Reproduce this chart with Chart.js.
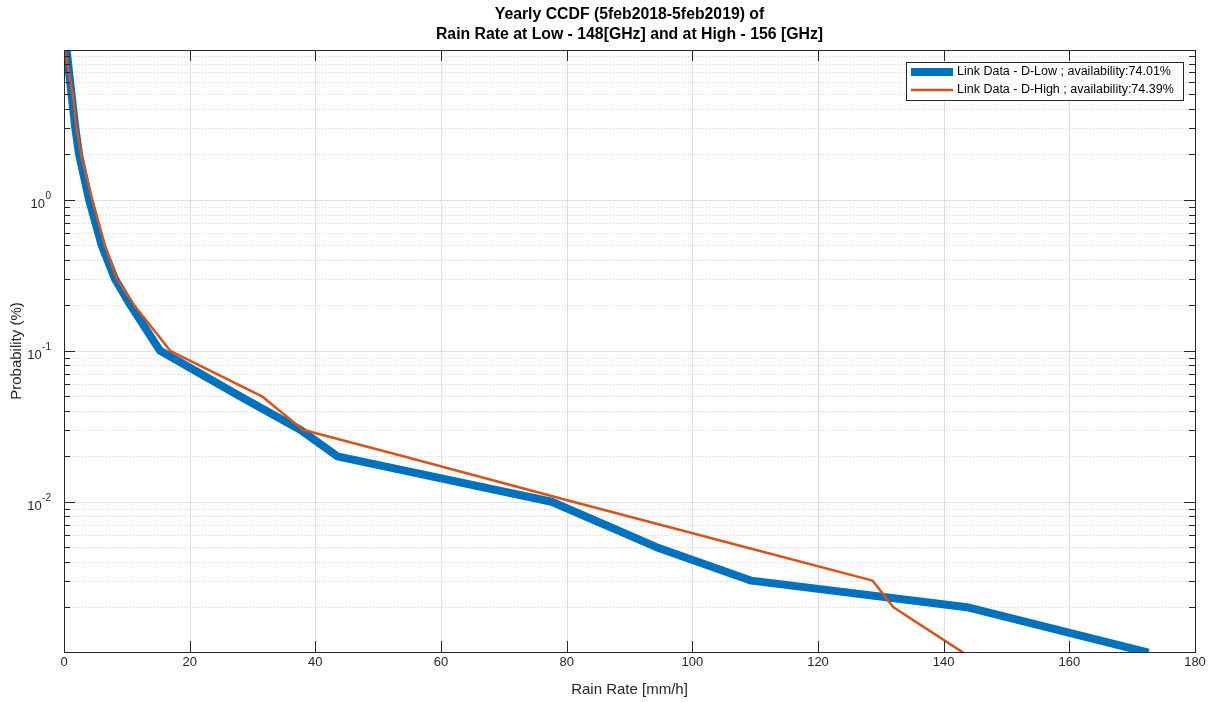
<!DOCTYPE html>
<html>
<head>
<meta charset="utf-8">
<title>Yearly CCDF of Rain Rate</title>
<script src="https://cdn.jsdelivr.net/npm/chart.js@4.4.1/dist/chart.umd.min.js"></script>
<style>
  html, body { margin: 0; padding: 0; background: #ffffff; }
  #wrap { width: 1212px; height: 702px; position: relative; }
</style>
</head>
<body>
<div id="wrap"><canvas id="ccdf" width="1212" height="702"></canvas></div>
<script>
// Exceedance probability levels (%) at which the rain rate is evaluated
const probLevels = [10, 5, 3, 2, 1, 0.5, 0.3, 0.2, 0.1, 0.05, 0.03, 0.02, 0.01, 0.005, 0.003, 0.002, 0.001];
// Rain rate [mm/h] exceeded at each probability level
const rateLow  = [0.4, 1.2, 1.8, 2.4, 4.0, 6.0, 8.1, 10.6, 15.3, 28.0, 37.6, 43.5, 77.6, 94.3, 109.4, 143.7, 172.6];
const rateHigh = [0.1, 1.4, 2.0, 2.7, 4.5, 6.5, 8.4, 11.2, 16.9, 31.5, 38.0, 54.0, 81.0, 108.5, 128.7, 132.0, 143.1];

const seriesNames = ['Link Data - D-Low ; availability:74.01%', 'Link Data - D-High ; availability:74.39%'];
const titleLines = ['Yearly CCDF (5feb2018-5feb2019) of', 'Rain Rate at Low - 148[GHz] and at High - 156 [GHz]'];
const xTitle = 'Rain Rate [mm/h]';
const yTitle = 'Probability (%)';

const xTicks = [0, 20, 40, 60, 80, 100, 120, 140, 160, 180];
const yDecades = [0.01, 0.1, 1];
const yDecadeExp = ['-2', '-1', '0'];
const yMinorMultipliers = [2, 3, 4, 5, 6, 7, 8, 9];
const yMinorBases = [0.001, 0.01, 0.1, 1];

const X_MIN = 0, X_MAX = 180, Y_MIN = 0.00101, Y_MAX = 9.85;

const AXIS_COLOR = '#262626';
const FONT = '"Liberation Sans", Arial, Helvetica, sans-serif';

function toPoints(xs, ys) {
  return xs.map((x, i) => ({ x: x, y: ys[i] }));
}

const decorPlugin = {
  id: 'decor',
  beforeDatasetsDraw(chart) {
    const { ctx, chartArea: a, scales: { x, y } } = chart;
    ctx.save();
    // minor grid (dotted) on the log axis
    ctx.strokeStyle = 'rgba(38,38,38,0.2)';
    ctx.lineWidth = 1;
    ctx.setLineDash([1, 2]);
    yMinorBases.forEach(b => {
      yMinorMultipliers.forEach(m => {
        const v = b * m;
        if (v <= Y_MIN || v >= Y_MAX) return;
        const py = Math.round(y.getPixelForValue(v)) + 0.5;
        ctx.beginPath(); ctx.moveTo(a.left, py); ctx.lineTo(a.right, py); ctx.stroke();
      });
    });
    ctx.setLineDash([]);
    // major grid
    ctx.strokeStyle = 'rgba(38,38,38,0.14)';
    yDecades.forEach(v => {
      const py = Math.round(y.getPixelForValue(v)) + 0.5;
      ctx.beginPath(); ctx.moveTo(a.left, py); ctx.lineTo(a.right, py); ctx.stroke();
    });
    xTicks.forEach(v => {
      if (v <= X_MIN || v >= X_MAX) return;
      const px = Math.round(x.getPixelForValue(v)) + 0.5;
      ctx.beginPath(); ctx.moveTo(px, a.top); ctx.lineTo(px, a.bottom); ctx.stroke();
    });
    ctx.restore();
  },
  afterDatasetsDraw(chart) {
    const { ctx, chartArea: a, scales: { x, y } } = chart;
    ctx.save();
    // axes box
    ctx.strokeStyle = AXIS_COLOR;
    ctx.lineWidth = 1;
    ctx.strokeRect(Math.round(a.left) + 0.5, Math.round(a.top) + 0.5,
                   Math.round(a.right - a.left), Math.round(a.bottom - a.top));
    // inward tick marks
    ctx.beginPath();
    xTicks.forEach(v => {
      const px = Math.round(x.getPixelForValue(v)) + 0.5;
      ctx.moveTo(px, a.bottom); ctx.lineTo(px, a.bottom - 11);
      ctx.moveTo(px, a.top); ctx.lineTo(px, a.top + 11);
    });
    yDecades.forEach(v => {
      const py = Math.round(y.getPixelForValue(v)) + 0.5;
      ctx.moveTo(a.left, py); ctx.lineTo(a.left + 11, py);
      ctx.moveTo(a.right, py); ctx.lineTo(a.right - 11, py);
    });
    yMinorBases.forEach(b => {
      yMinorMultipliers.forEach(m => {
        const v = b * m;
        if (v <= Y_MIN || v >= Y_MAX) return;
        const py = Math.round(y.getPixelForValue(v)) + 0.5;
        ctx.moveTo(a.left, py); ctx.lineTo(a.left + 6, py);
        ctx.moveTo(a.right, py); ctx.lineTo(a.right - 6, py);
      });
    });
    ctx.stroke();

    // x tick labels
    ctx.fillStyle = AXIS_COLOR;
    ctx.font = '13px ' + FONT;
    ctx.textAlign = 'center';
    ctx.textBaseline = 'top';
    xTicks.forEach(v => {
      ctx.fillText(String(v), x.getPixelForValue(v), a.bottom + 4);
    });
    // y tick labels: 10 with superscript exponent
    yDecades.forEach((v, i) => {
      const py = y.getPixelForValue(v);
      ctx.font = '10px ' + FONT;
      const expW = ctx.measureText(yDecadeExp[i]).width;
      const right = a.left - 13;
      ctx.textAlign = 'left';
      ctx.textBaseline = 'alphabetic';
      ctx.fillText(yDecadeExp[i], right - expW, py - 1);
      ctx.font = '13px ' + FONT;
      const baseW = ctx.measureText('10').width;
      ctx.fillText('10', right - expW - baseW - 0.5, py + 8);
    });

    // axis titles
    ctx.font = '15px ' + FONT;
    ctx.textAlign = 'center';
    ctx.textBaseline = 'middle';
    ctx.fillText(xTitle, (a.left + a.right) / 2, a.bottom + 38);
    ctx.save();
    ctx.translate(17, (a.top + a.bottom) / 2);
    ctx.rotate(-Math.PI / 2);
    ctx.fillText(yTitle, 0, 0);
    ctx.restore();

    // title
    ctx.fillStyle = '#000000';
    ctx.font = 'bold 15.8px ' + FONT;
    ctx.fillText(titleLines[0], (a.left + a.right) / 2, 15);
    ctx.fillText(titleLines[1], (a.left + a.right) / 2, 35);

    // legend
    const lx = 906, ly = 62, lw = 277, lh = 38;
    ctx.fillStyle = '#ffffff';
    ctx.fillRect(lx, ly, lw, lh);
    ctx.strokeStyle = AXIS_COLOR;
    ctx.lineWidth = 1;
    ctx.strokeRect(lx + 0.5, ly + 0.5, lw, lh);
    ctx.font = '12.5px ' + FONT;
    ctx.textAlign = 'left';
    ctx.textBaseline = 'middle';
    chart.data.datasets.forEach((ds, i) => {
      const ry = ly + 10 + i * 18;
      ctx.strokeStyle = ds.borderColor;
      ctx.lineWidth = ds.borderWidth;
      ctx.beginPath(); ctx.moveTo(lx + 5, ry); ctx.lineTo(lx + 47, ry); ctx.stroke();
      ctx.fillStyle = '#000000';
      ctx.fillText(ds.label, lx + 51, ry);
    });
    ctx.restore();
  }
};

new Chart(document.getElementById('ccdf'), {
  type: 'scatter',
  data: {
    datasets: [
      {
        label: seriesNames[0],
        data: toPoints(rateLow, probLevels),
        showLine: true,
        borderColor: '#0072BD',
        backgroundColor: '#0072BD',
        borderWidth: 8,
        pointRadius: 0,
        tension: 0,
        borderJoinStyle: 'round',
        order: 1
      },
      {
        label: seriesNames[1],
        data: toPoints(rateHigh, probLevels),
        showLine: true,
        borderColor: '#D95319',
        backgroundColor: '#D95319',
        borderWidth: 2.5,
        pointRadius: 0,
        tension: 0,
        borderJoinStyle: 'round',
        order: 0
      }
    ]
  },
  options: {
    responsive: false,
    animation: false,
    events: [],
    layout: { padding: { left: 64, top: 50, right: 17, bottom: 50 } },
    plugins: { legend: { display: false }, title: { display: false }, tooltip: { enabled: false } },
    scales: {
      x: { type: 'linear', min: X_MIN, max: X_MAX, display: false },
      y: { type: 'logarithmic', min: Y_MIN, max: Y_MAX, display: false }
    }
  },
  plugins: [decorPlugin]
});
</script>
</body>
</html>
